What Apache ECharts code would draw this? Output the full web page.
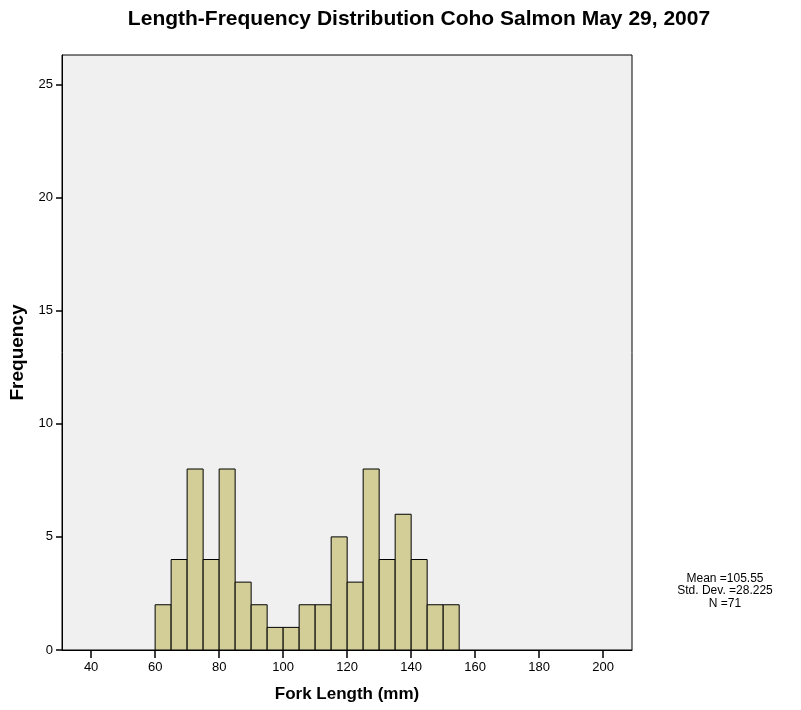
<!DOCTYPE html>
<html>
<head>
<meta charset="utf-8">
<script src="https://cdn.jsdelivr.net/npm/echarts@6/dist/echarts.min.js"></script>
<style>
  html, body { margin: 0; padding: 0; background: #fff; }
  #container { width: 801px; height: 710px; }
</style>
</head>
<body>
<div id="container"></div>
<script>
// histogram bins (mm) and counts
var binStarts = [60, 65, 70, 75, 80, 85, 90, 95, 100, 105, 110, 115, 120, 125, 130, 135, 140, 145, 150];
var counts = [2, 4, 8, 4, 8, 3, 2, 1, 1, 2, 2, 5, 3, 8, 4, 6, 4, 2, 2];
var binWidth = 5;
var xTicks = [40, 60, 80, 100, 120, 140, 160, 180, 200];
var yTicks = [0, 5, 10, 15, 20, 25];
var stats = ['Mean =105.55', 'Std. Dev. =28.225', 'N =71'];

var font = '"Liberation Sans", Arial, sans-serif';

var dom = document.getElementById('container');
var myChart = echarts.init(dom);

var bins = binStarts.map(function (s, i) {
  return [s, s + binWidth, counts[i]];
});

var option = {
  animation: false,
  grid: {
    left: 62,
    right: 169,
    top: 55,
    bottom: 60,
    show: true,
    backgroundColor: '#f0f0f0',
    borderColor: '#000',
    borderWidth: 1
  },
  xAxis: {
    type: 'value',
    min: 30.9,
    max: 209,
    name: 'Fork Length (mm)',
    nameLocation: 'middle',
    nameGap: 36,
    nameTextStyle: { fontFamily: font, fontSize: 17, fontWeight: 'bold', color: '#000' },
    axisLine: { lineStyle: { color: '#000' } },
    axisTick: { show: true, inside: false, length: 8, customValues: xTicks, lineStyle: { color: '#000', width: 1.5 } },
    axisLabel: { customValues: xTicks, fontFamily: font, fontSize: 13, color: '#000', margin: 11 },
    splitLine: { show: false }
  },
  yAxis: {
    type: 'value',
    min: 0,
    max: 26.3,
    name: 'Frequency',
    nameLocation: 'middle',
    nameGap: 34,
    nameTextStyle: { fontFamily: font, fontSize: 19, fontWeight: 'bold', color: '#000' },
    axisLine: { show: true, lineStyle: { color: '#000' } },
    axisTick: { show: true, inside: false, length: 6, customValues: yTicks, lineStyle: { color: '#000', width: 1.5 } },
    axisLabel: { customValues: yTicks, fontFamily: font, fontSize: 13, color: '#000', margin: 9 },
    splitLine: { show: false }
  },
  series: [{
    type: 'custom',
    data: bins,
    renderItem: function (params, api) {
      var p0 = api.coord([api.value(0), api.value(2)]);
      var p1 = api.coord([api.value(1), 0]);
      return {
        type: 'rect',
        shape: { x: p0[0], y: p0[1], width: p1[0] - p0[0], height: p1[1] - p0[1] },
        style: { fill: '#d3ce97', stroke: '#000', lineWidth: 1 }
      };
    }
  }],
  graphic: [{
    type: 'text',
    x: 419,
    y: 19,
    style: {
      text: 'Length-Frequency Distribution Coho Salmon May 29, 2007',
      textAlign: 'center',
      textVerticalAlign: 'middle',
      fontFamily: font,
      fontSize: 21,
      fontWeight: 'bold',
      fill: '#000'
    }
  }, {
    type: 'text',
    x: 725,
    y: 572,
    style: {
      text: stats.join('\n'),
      textAlign: 'center',
      fontFamily: font,
      fontSize: 12,
      lineHeight: 12.5,
      fill: '#000'
    }
  }]
};

myChart.setOption(option);
</script>
</body>
</html>
